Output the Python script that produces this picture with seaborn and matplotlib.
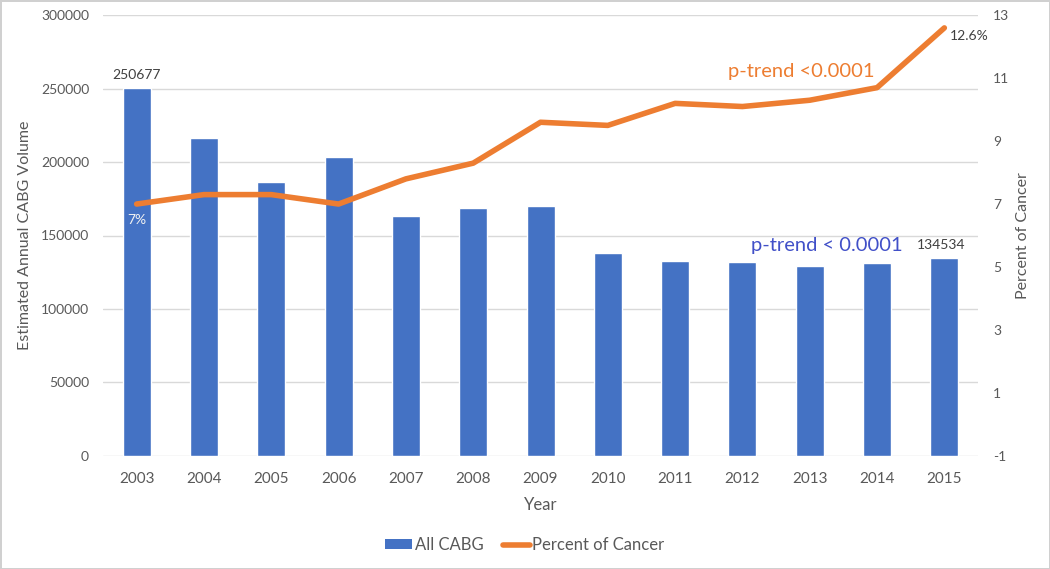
import matplotlib
matplotlib.use("Agg")
import matplotlib.pyplot as plt
import seaborn as sns
import pandas as pd
import numpy as np
from matplotlib.patches import Patch
from matplotlib.lines import Line2D

# ---- data ----
years = [2003, 2004, 2005, 2006, 2007, 2008, 2009, 2010, 2011, 2012, 2013, 2014, 2015]
cabg_volume = [250677, 216400, 186200, 203300, 163300, 168500, 170300,
               137900, 132600, 131700, 129400, 131300, 134534]
percent_cancer = [7.0, 7.3, 7.3, 7.0, 7.8, 8.3, 9.6, 9.5, 10.2, 10.1, 10.3, 10.7, 12.6]
left_ticks = [0, 50000, 100000, 150000, 200000, 250000, 300000]
right_ticks = [-1, 1, 3, 5, 7, 9, 11, 13]

BLUE = "#4472C4"
ORANGE = "#ED7D31"
GRAY = "#595959"

sns.set_theme(style="white")
plt.rcParams['font.family'] = ['Lato', 'DejaVu Sans']
plt.rcParams['axes.unicode_minus'] = False

fig = plt.figure(figsize=(10.5, 5.69), dpi=100)
W, H = 1050, 569
ax = fig.add_axes([103 / W, 1 - 455.7 / H, 875 / W, 440.4 / H])

df = pd.DataFrame({"Year": [str(y) for y in years], "CABG": cabg_volume, "Pct": percent_cancer})
sns.barplot(data=df, x="Year", y="CABG", color=BLUE, width=0.416, saturation=1, ax=ax, zorder=2)
ax.set_xlim(-0.5, len(years) - 0.5)
ax.set_ylim(0, 300000)
ax.set_yticks(left_ticks)
ax.set_yticklabels([str(t) for t in left_ticks])
ax.yaxis.grid(True, color="#D9D9D9", lw=1)
ax.set_axisbelow(True)
for s in ax.spines.values():
    s.set_visible(False)
ax.tick_params(axis="both", length=0, labelcolor=GRAY)
ax.tick_params(axis="y", pad=10, labelsize=10)
ax.tick_params(axis="x", pad=12, labelsize=11)
ax.set_xlabel("Year", fontsize=12, color=GRAY, labelpad=8)
ax.set_ylabel("Estimated Annual CABG Volume", fontsize=11.5, color=GRAY)
ax.yaxis.set_label_coords(-0.081, 0.5)

ax2 = ax.twinx()
sns.lineplot(x=np.arange(len(years)), y=percent_cancer, color=ORANGE, lw=4, ax=ax2,
             solid_capstyle="round", solid_joinstyle="round")
ax2.set_ylim(-1, 13)
ax2.set_yticks(right_ticks)
for s in ax2.spines.values():
    s.set_visible(False)
ax2.tick_params(axis="y", length=0, labelsize=10, labelcolor=GRAY, pad=11)
ax2.set_ylabel("Percent of Cancer", fontsize=11.5, color=GRAY)
ax2.yaxis.set_label_coords(1.043, 0.5)

# annotations
ax.annotate(str(cabg_volume[0]), (0, cabg_volume[0]), xytext=(0, 5), textcoords="offset points",
            ha="center", va="bottom", fontsize=10, color="#404040")
ax.annotate(str(cabg_volume[-1]), (len(years) - 1, cabg_volume[-1]), xytext=(-2, 5),
            textcoords="offset points", ha="center", va="bottom", fontsize=10, color="#404040")
ax2.annotate("7%", (0, percent_cancer[0]), xytext=(0, -11.5), textcoords="offset points",
             ha="center", va="center", fontsize=10, color="#F2F2F2")
ax2.annotate("12.6%", (len(years) - 1, percent_cancer[-1]), xytext=(4, -6), textcoords="offset points",
             ha="left", va="center", fontsize=10, color="#404040")
ax2.text(9.87, 11.2, "p-trend <0.0001", ha="center", va="center", fontsize=14.5, color=ORANGE)
ax2.text(10.26, 5.67, "p-trend < 0.0001", ha="center", va="center", fontsize=14.5, color="#4150C8")

handles = [Patch(facecolor=BLUE, edgecolor="none", label="All CABG"),
           Line2D([0], [0], color=ORANGE, lw=4, solid_capstyle="round", label="Percent of Cancer")]
leg = fig.legend(handles=handles, loc="center", bbox_to_anchor=(525 / W, 1 - 545 / H), ncol=2,
                 frameon=False, fontsize=12, handlelength=1.6, handletextpad=0.15,
                 columnspacing=1.2, handleheight=0.5)
for t in leg.get_texts():
    t.set_color(GRAY)

fig.patch.set_edgecolor("#D0D0D0")
fig.patch.set_linewidth(2)
fig.savefig("out.png", dpi=100, facecolor="white", edgecolor=fig.get_edgecolor())
